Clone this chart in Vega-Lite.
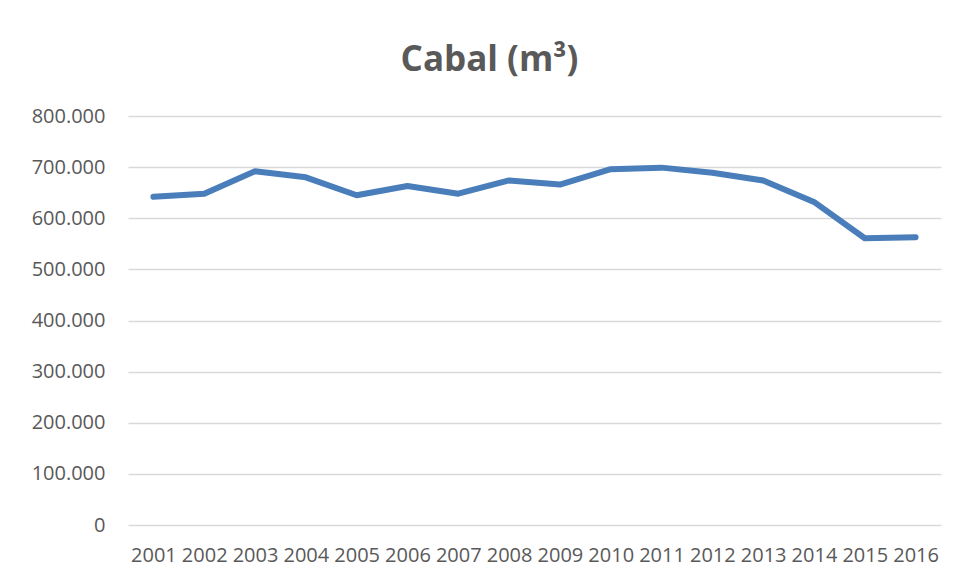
{
  "$schema": "https://vega.github.io/schema/vega-lite/v6.json",
  "width": 813,
  "height": 409,
  "autosize": {"type": "none"},
  "padding": {"left": 128, "top": 116, "right": 17, "bottom": 56},
  "background": "white",
  "title": {
    "text": "Cabal (m³)",
    "font": "Open Sans",
    "fontSize": 35,
    "fontWeight": "bold",
    "color": "#595959",
    "anchor": "middle",
    "dx": -45,
    "offset": 28
  },
  "data": {
    "values": [
      {"year": "2001", "value": 642000},
      {"year": "2002", "value": 648000},
      {"year": "2003", "value": 692000},
      {"year": "2004", "value": 680000},
      {"year": "2005", "value": 645000},
      {"year": "2006", "value": 663000},
      {"year": "2007", "value": 648000},
      {"year": "2008", "value": 674000},
      {"year": "2009", "value": 666000},
      {"year": "2010", "value": 696000},
      {"year": "2011", "value": 699000},
      {"year": "2012", "value": 689000},
      {"year": "2013", "value": 674000},
      {"year": "2014", "value": 632000},
      {"year": "2015", "value": 561000},
      {"year": "2016", "value": 563000}
    ]
  },
  "mark": {"type": "line", "color": "#4A7EBB", "strokeWidth": 6, "strokeCap": "round", "strokeJoin": "round"},
  "encoding": {
    "x": {
      "field": "year",
      "type": "ordinal",
      "scale": {"type": "point", "padding": 0.5},
      "axis": {
        "title": null,
        "labelAngle": 0,
        "ticks": false,
        "domain": false,
        "grid": false,
        "labelPadding": 20,
        "labelOverlap": false,
        "labelBound": false
      }
    },
    "y": {
      "field": "value",
      "type": "quantitative",
      "scale": {"domain": [0, 800000], "nice": false},
      "axis": {
        "title": null,
        "values": [0, 100000, 200000, 300000, 400000, 500000, 600000, 700000, 800000],
        "format": ",d",
        "ticks": false,
        "domain": false,
        "labelPadding": 23,
        "gridColor": "#D9D9D9",
        "gridWidth": 1.5
      }
    }
  },
  "config": {
    "locale": {"number": {"decimal": ",", "thousands": ".", "grouping": [3], "currency": ["", " €"]}},
    "view": {"stroke": null},
    "axis": {
      "labelFont": "Open Sans",
      "labelFontSize": 20,
      "labelColor": "#595959"
    }
  }
}
